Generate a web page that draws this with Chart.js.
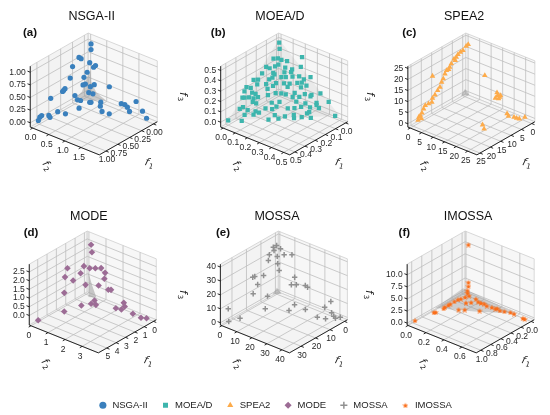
<!DOCTYPE html>
<html>
<head>
<meta charset="utf-8">
<script src="https://cdn.jsdelivr.net/npm/chart.js@4.4.1/dist/chart.umd.min.js"></script>
<style>
  html, body { margin: 0; padding: 0; background: #fff; }
  #wrap { width: 550px; height: 415px; }
</style>
</head>
<body>
<div id="wrap"><canvas id="myChart" width="550" height="415"></canvas></div>
<script>
const FONT = '"Liberation Sans", Arial, sans-serif';

// objective values [f1, f2, f3]
const nsga2Points = [
  [0,0.13,1.0],[0,0.13,0.89],[0.165,0,0.79],[0.12,0,0.74],[0,0.09,0.62],[0,0.21,0.56],[0,0.27,0.61],
  [0.30,0,0.68],[0,0.01,0.41],[0.06,0,0.34],[0.35,0,0.48],[0.46,0,0.33],[0.03,0,0.19],[0.08,0,0.2],
  [0,0.23,0.22],[0,0.70,0.30],[0.49,0,0.31],[0.51,0,0.30],[0.76,0,0.30],[0.25,0,0.08],[0,0.06,0.02],
  [0,0.19,0.03],[0.17,0.38,0],[0.23,0.05,0],[0.22,0.13,0],[0.08,0.55,0],[0.17,0.67,0],[0.19,0.37,0.01],
  [0.40,0.35,0],[0.95,0,0.06],[0.99,0,0.05],[1.02,0,0],[0.82,0.03,0],[0.85,0.11,0],[0.66,0.07,0],
  [0.64,0.28,0],[0.27,0.87,0],[0.26,1.08,0],[0,1.07,0.06],[0,1.18,0.07],[0,1.26,0.04],[0.03,1.37,0],
  [0,1.53,0.22],[0,1.73,0.08],[0.03,1.9,0],[0,0.11,0.15]
];
const moeadPoints = [
  [0.01,0.01,0.48],[0.03,0.03,0.44],[0.09,0.03,0.38],[0.07,0.05,0.38],[0.06,0.07,0.37],[0,0.19,0.42],
  [0.04,0.10,0.36],[0,0.18,0.32],[0.15,0.02,0.33],[0.14,0.04,0.32],[0.11,0.06,0.33],[0.09,0.07,0.34],
  [0.07,0.11,0.32],[0.05,0.15,0.31],[0.19,0.02,0.29],[0.14,0.07,0.29],[0.14,0.08,0.28],[0.09,0.12,0.29],
  [0.06,0.15,0.29],[0.25,0,0.25],[0.23,0.02,0.25],[0.18,0.07,0.25],[0.16,0.08,0.26],[0.12,0.12,0.26],
  [0.10,0.14,0.26],[0.07,0.17,0.26],[0.04,0.20,0.26],[0.03,0.23,0.24],[0,0.26,0.26],[0.25,0.03,0.22],
  [0.21,0.07,0.22],[0.16,0.11,0.22],[0.13,0.15,0.22],[0.11,0.18,0.22],[0.07,0.21,0.22],[0.05,0.23,0.22],
  [0.04,0.26,0.20],[0.32,0,0.22],[0.29,0.01,0.20],[0.22,0.09,0.19],[0.19,0.11,0.21],[0.13,0.18,0.20],
  [0.07,0.24,0.19],[0.34,0,0.19],[0.30,0.03,0.17],[0.29,0.05,0.16],[0.20,0.14,0.16],[0.18,0.17,0.16],
  [0.16,0.19,0.15],[0.12,0.23,0.16],[0.08,0.28,0.15],[0.05,0.31,0.14],[0.01,0.35,0.15],[0.36,0,0.14],
  [0.35,0.01,0.14],[0.33,0.03,0.14],[0.31,0.05,0.13],[0.29,0.07,0.14],[0.24,0.11,0.15],[0.14,0.23,0.13],
  [0.11,0.26,0.13],[0.06,0.31,0.13],[0.33,0.06,0.11],[0.32,0.08,0.10],[0.25,0.15,0.10],[0.21,0.18,0.10],
  [0.14,0.26,0.10],[0.11,0.31,0.09],[0.06,0.36,0.09],[0,0.41,0.09],[0.41,0.02,0.07],[0.39,0.03,0.08],
  [0.38,0.06,0.06],[0.35,0.10,0.05],[0.34,0.12,0.04],[0.30,0.14,0.07],[0.27,0.17,0.06],[0.24,0.18,0.07],
  [0.20,0.24,0.06],[0.17,0.27,0.06],[0.14,0.30,0.07],[0.10,0.34,0.06],[0.06,0.36,0.07],[0.06,0.38,0.05],
  [0.41,0.06,0.03],[0.37,0.10,0.03],[0.28,0.20,0.02],[0.24,0.25,0.01],[0.20,0.29,0.02],[0.13,0.34,0.02],
  [0.12,0.35,0.03],[0.50,0,0],[0.45,0.07,0],[0.33,0.19,0],[0.28,0.23,0],[0.21,0.30,0],[0.17,0.33,0],
  [0.14,0.38,0],[0.02,0.48,0]
];
const spea2Points = [
  [0,1.4,22.7],[0,0.5,21.5],[1.0,0,19.9],[2.2,0,19.8],[3.4,0,19.4],[4.2,0,18.6],[5.3,0,18.4],[4.7,0,17.4],
  [6.6,0,16.9],[7.4,0,15.8],[8.9,0,15.1],[7.9,0,15.0],[9.7,0,14.0],[10.5,0,12.2],[11.3,0,11.1],[12.1,0,9.3],
  [13.2,0,8.4],[14.5,0,7.1],[15.7,0,6.2],[16,0,4.6],[17.6,0,4.7],[19.2,0,4.8],[20,0,3.7],[20.8,0,2.3],
  [21.6,0,1.5],[22.3,0,1.2],[22.7,0,0],[21.3,0.2,0],[15.7,0,16.2],[0,8.6,11.7],[0,13.9,6.1],[0,14.2,5.0],
  [0,15.1,4.6],[0,13.2,3.4],[0,14.6,3.7],[0,15.4,5.5],[1.7,19.8,0],[2.6,21.2,0],[2.0,23.1,0],[2.0,24.2,0],
  [1.8,25.2,0],[0,26,0.1],[12.1,18.5,0],[13.8,20.7,0]
];
const modePoints = [
  [0,0.29,2.41],[0,0.34,2.0],[2.0,0,1.56],[0.24,0,1.14],[0,0.21,1.03],[0,0.54,1.16],[0,0.88,1.30],
  [0,1.11,1.12],[2.26,0,1.13],[0.59,0,0.84],[1.39,0,0.67],[0,1.07,0.76],[0.06,0,0.01],[0,0.73,0.24],
  [0,1.30,0.22],[0,1.46,0.28],[2.34,0,0.25],[1.37,1.24,0],[1.88,1.32,0],[1.78,1.55,0],[2.5,1.09,0],
  [0.33,2.39,0],[0.69,2.64,0],[1.27,2.44,0],[1.17,2.71,0],[3.91,0.86,0],[1.13,3.36,0],[1.21,3.88,0],
  [0.4,3.76,-0.32],[5.13,0,-0.47]
];
const mossaPoints = [
  [2.5,0,33.6],[0.2,0,33.5],[0,2.4,32.1],[2.0,0,31.0],[5.2,0,29.8],[0,0.2,25.6],[0,4.8,28.8],[0,10,31.0],
  [5.9,0,26.1],[0,0.5,20.4],[0,1.5,16.1],[16.7,0,20.5],[15.3,0,20.2],[9.2,0,17.3],[13.3,0,13.2],
  [0,11.8,15.7],[0,9.6,9.3],[0,12.9,10.7],[0,18.9,12.8],[0,20.4,12.2],[16.4,0,8.4],[6.5,0,0.8],
  [4.1,15.7,0],[9.7,17.4,0],[4.4,23.2,0],[15.3,7.0,0],[33.6,0,7.8],[34.7,1.4,0],[29.2,3.6,0],
  [6.4,33.1,0],[0,31.8,2.8],[0,35.9,8.7],[5.2,37.4,0],[0,36.4,0.8],[1.0,38.8,0],[2.0,40.9,0],[0,42.2,0.1]
];
const imossaPoints = [
  [0,0.06,10.3],[0,0.06,2.5],[0,0.06,1.7],[0,0.05,0.75],[0,0.05,0.22],[0.02,0.08,0],[0.08,0.07,0],
  [0.15,0.06,0],[0.19,0.05,0],[0.26,0.05,0],[0.34,0.05,0],[0.38,0.05,0],[0.45,0.05,0],[0.49,0.06,0],
  [0.63,0.05,0],[0.65,0.04,0],[0.97,0.01,0],[0.14,0.17,0],[0.19,0.14,0],[0.39,0.17,0],[0.34,0.21,0],
  [0.24,0.32,0],[0.03,0.16,0],[0.07,0.21,0],[0.07,0.24,0],[0.06,0.27,0],[0.08,0.31,0],[0.07,0.36,0],
  [0.07,0.40,0],[0.05,0.41,0],[0.07,0.45,0],[0.05,0.49,0],[0.02,0.54,0],[0.02,0.58,0],[0.04,0.69,0],
  [0.04,0.71,0]
];

// reference fronts drawn as grey patches
const nsga2Front = [[0,0.12,0.48],[0.03,0,0.25],[0.1,0,0.08],[0.3,0,0],[0.15,0.3,0],[0,0.6,0],[0,0.3,0.08],[0,0.14,0.25]];
const moeadFront = [[0.5,0,0],[0,0.5,0],[0,0,0.5]];
const spea2Front = [[2,0,0],[0,2,0],[0,0,2]];
const modeFront = [[0,0.12,0.8],[0.05,0.2,0.1],[0.3,0.3,-0.5],[0,0.6,-0.5],[0,0.35,0.1]];
const mossaFront = [[3,0,0],[0,3,0],[0,0,3]];
const imossaFront = [[0,0,0.8],[0.55,0,0],[0.3,0.3,0],[0,0.6,0]];

const seriesNames = ['NSGA-II', 'MOEA/D', 'SPEA2', 'MODE', 'MOSSA', 'IMOSSA'];
const panelTags = ['(a)', '(b)', '(c)', '(d)', '(e)', '(f)'];

// axis limits and ticks per panel
const f1Limits = [[-0.08,1.14],[-0.02,0.55],[-1.5,26.5],[-0.3,5.9],[-2,38],[-0.06,1.09]];
const f2Limits = [[-0.075,2.07],[-0.02,0.55],[-1,29],[-0.1,3.95],[-1,45],[-0.01,0.76]];
const f3Limits = [[-0.085,1.12],[-0.047,0.542],[-1.5,26],[-0.55,2.95],[-1.7,42.1],[-0.4,12.2]];
const f1Ticks = [[0,0.25,0.5,0.75,1],[0,0.1,0.2,0.3,0.4,0.5],[0,5,10,15,20,25],[0,1,2,3,4,5],[0,10,20,30],[0,0.2,0.4,0.6,0.8,1]];
const f2Ticks = [[0,0.5,1,1.5],[0,0.1,0.2,0.3,0.4,0.5],[0,5,10,15,20,25],[0,1,2,3],[0,10,20,30,40],[0,0.2,0.4,0.6]];
const f3Ticks = [[0,0.25,0.5,0.75,1],[0,0.1,0.2,0.3,0.4,0.5],[0,5,10,15,20,25],[0,0.5,1,1.5,2,2.5],[0,10,20,30,40],[0,2.5,5,7.5,10]];
const tickDecimals = [[2,1,2],[1,1,1],[0,0,0],[0,0,1],[0,0,0],[1,1,1]];

// layout (page pixels)
const boxOrigin = [[84.4,88.5],[278.7,88.5],[469.7,88.5],[83.4,286.5],[278.4,286.5],[469,286.5]];
const titlePos = [[88,11],[280,11],[468,11],[85,211.5],[277,211.5],[472,211.5]];
const tagPos = [[25,27],[217,27],[412,27],[26,227],[222,227],[407,227]];

const seriesPoints = [nsga2Points, moeadPoints, spea2Points, modePoints, mossaPoints, imossaPoints];
const seriesFronts = [nsga2Front, moeadFront, spea2Front, modeFront, mossaFront, imossaFront];
const frontAlpha = [0.45, 0.13, 0.5, 0.5, 0.5, 0.4];
const seriesColors = ['#3a80bd', '#3db5ad', '#fdab4a', '#9c6c95', '#909090', '#fb6b14'];

// view: elev 28, azim 40, box aspect 4:4:3
const L = 92, EL = 28 * Math.PI / 180, AZ = 40 * Math.PI / 180;
const KU = L * Math.sin(AZ), KV = L * Math.cos(AZ);
const DU = L * Math.sin(EL) * Math.cos(AZ), DV = L * Math.sin(EL) * Math.sin(AZ);
const KW = 0.75 * L * Math.cos(EL);

function normPoint(k, u, v, w) {
  const o = boxOrigin[k];
  return { x: o[0] - KU * u + KV * v, y: o[1] + DU * u + DV * v - KW * w };
}
function frac(lim, val) { return (val - lim[0]) / (lim[1] - lim[0]); }
function dataPoint(k, f1, f2, f3) {
  return normPoint(k, frac(f1Limits[k], f1), frac(f2Limits[k], f2), frac(f3Limits[k], f3));
}

function makeStar(color, size) {
  const c = document.createElement('canvas');
  c.width = size; c.height = size;
  const g = c.getContext('2d');
  const R = size / 2, r = R * 0.45;
  g.fillStyle = color;
  g.beginPath();
  for (let i = 0; i < 10; i++) {
    const a = -Math.PI / 2 + i * Math.PI / 5;
    const rr = i % 2 ? r : R;
    const x = R + rr * Math.cos(a), y = R + 0.5 + rr * Math.sin(a);
    if (i) g.lineTo(x, y); else g.moveTo(x, y);
  }
  g.closePath();
  g.fill();
  return c;
}

const seriesStyles = ['circle', 'rect', 'triangle', 'rectRot', 'cross', makeStar(seriesColors[5], 6)];
const seriesRadius = [2.6, 3, 3.2, 3.3, 2.7, 3];

function fLabel(ctx, x, y, sub, rot) {
  ctx.save();
  ctx.translate(x, y);
  ctx.rotate(rot * Math.PI / 180);
  ctx.fillStyle = '#222';
  ctx.textBaseline = 'middle';
  ctx.textAlign = 'left';
  ctx.font = 'italic 10.5px "DejaVu Sans", sans-serif';
  const wf = ctx.measureText('f').width;
  ctx.font = '7px "DejaVu Sans", sans-serif';
  const ws = ctx.measureText(sub).width;
  const x0 = -(wf + ws + 1) / 2;
  ctx.font = 'italic 10.5px "DejaVu Sans", sans-serif';
  ctx.fillText('f', x0, 0);
  ctx.font = '7px "DejaVu Sans", sans-serif';
  ctx.fillText(sub, x0 + wf + 1, 3);
  ctx.restore();
}

function drawPanel(ctx, P, k) {
  const n = (u, v, w) => P(normPoint(k, u, v, w));
  const poly = (pts) => {
    ctx.beginPath();
    pts.forEach((p, i) => { if (i) ctx.lineTo(p[0], p[1]); else ctx.moveTo(p[0], p[1]); });
    ctx.closePath();
  };
  const line = (a, b) => { ctx.beginPath(); ctx.moveTo(a[0], a[1]); ctx.lineTo(b[0], b[1]); ctx.stroke(); };

  // panes
  const panes = [
    ['#f3f3f3', [[0,0,0],[1,0,0],[1,0,1],[0,0,1]]],
    ['#f7f7f7', [[0,0,0],[0,1,0],[0,1,1],[0,0,1]]],
    ['#f4f4f4', [[0,0,0],[1,0,0],[1,1,0],[0,1,0]]]
  ];
  panes.forEach(([c, pts]) => {
    poly(pts.map(p => n(p[0], p[1], p[2])));
    ctx.fillStyle = c;
    ctx.fill();
    ctx.strokeStyle = '#cfcfcf';
    ctx.lineWidth = 0.8;
    ctx.stroke();
  });

  // grid lines
  ctx.strokeStyle = '#bebebe';
  ctx.lineWidth = 0.8;
  f1Ticks[k].forEach(t => {
    const u = frac(f1Limits[k], t);
    line(n(u,0,0), n(u,1,0));
    line(n(u,0,0), n(u,0,1));
  });
  f2Ticks[k].forEach(t => {
    const v = frac(f2Limits[k], t);
    line(n(0,v,0), n(1,v,0));
    line(n(0,v,0), n(0,v,1));
  });
  f3Ticks[k].forEach(t => {
    const w = frac(f3Limits[k], t);
    line(n(0,0,w), n(1,0,w));
    line(n(0,0,w), n(0,1,w));
  });

  // grey reference front
  poly(seriesFronts[k].map(p => P(dataPoint(k, p[0], p[1], p[2]))));
  ctx.fillStyle = 'rgba(150,150,150,' + frontAlpha[k] + ')';
  ctx.fill();

  // axis lines and ticks
  ctx.strokeStyle = '#111';
  ctx.lineWidth = 0.9;
  line(n(0,1,0), n(1,1,0));
  line(n(1,0,0), n(1,1,0));
  line(n(1,0,0), n(1,0,1));

  const dec = tickDecimals[k];
  ctx.fillStyle = '#262626';
  ctx.font = '8.5px ' + FONT;
  ctx.textAlign = 'center';
  ctx.textBaseline = 'middle';
  f1Ticks[k].forEach(t => {
    const u = frac(f1Limits[k], t);
    line(n(u,1,0), n(u,1.04,0));
    const p = n(u,1,0);
    ctx.fillText(t.toFixed(dec[0]), p[0] + 1, p[1] + 9);
  });
  f2Ticks[k].forEach(t => {
    const v = frac(f2Limits[k], t);
    line(n(1,v,0), n(1.04,v,0));
    const p = n(1,v,0);
    ctx.fillText(t.toFixed(dec[1]), p[0] - 2, p[1] + 10);
  });
  ctx.textAlign = 'right';
  f3Ticks[k].forEach(t => {
    const w = frac(f3Limits[k], t);
    line(n(1,0,w), n(1,-0.04,w));
    const p = n(1,0,w);
    ctx.fillText(t.toFixed(dec[2]), p[0] - 4.5, p[1]);
  });
  ctx.textAlign = 'center';

  // axis labels
  const m1 = n(0.5,1,0), m2 = n(1,0.5,0), m3 = n(1,0,0.5);
  fLabel(ctx, m1[0] + 21, m1[1] + 25, '1', 15);
  fLabel(ctx, m2[0] - 18, m2[1] + 25, '2', 55);
  fLabel(ctx, m3[0] - 38, m3[1], '3', 90);

  // title and tag
  const tp = P({ x: titlePos[k][0], y: titlePos[k][1] });
  ctx.fillStyle = '#111';
  ctx.font = '12.5px ' + FONT;
  ctx.fillText(seriesNames[k], tp[0], tp[1]);
  const gp = P({ x: tagPos[k][0], y: tagPos[k][1] });
  ctx.font = 'bold 11.5px ' + FONT;
  ctx.fillText(panelTags[k], gp[0], gp[1]);
}

const axes3d = {
  id: 'axes3d',
  beforeDatasetsDraw(chart) {
    const ctx = chart.ctx;
    const sx = chart.scales.x, sy = chart.scales.y;
    const P = (pt) => [sx.getPixelForValue(pt.x), sy.getPixelForValue(pt.y)];
    ctx.save();
    for (let k = 0; k < 6; k++) drawPanel(ctx, P, k);
    ctx.restore();
  }
};

const datasets = seriesPoints.map((pts, k) => ({
  label: seriesNames[k],
  data: pts.map(p => dataPoint(k, p[0], p[1], p[2])),
  pointStyle: seriesStyles[k],
  pointRadius: seriesRadius[k],
  backgroundColor: seriesColors[k],
  borderColor: seriesColors[k],
  pointBorderWidth: k === 4 ? 1.5 : 0,
  borderWidth: k === 4 ? 1.5 : 0,
  showLine: false
}));

const chart = new Chart(document.getElementById('myChart'), {
  type: 'scatter',
  data: { datasets: datasets },
  options: {
    responsive: false,
    animation: false,
    events: [],
    layout: { padding: { left: 0, right: 0, top: 0, bottom: -5 } },
    scales: {
      x: { type: 'linear', min: 0, max: 550, display: false },
      y: { type: 'linear', min: 0, max: 415, reverse: true, display: false }
    },
    plugins: {
      legend: {
        position: 'bottom',
        labels: {
          usePointStyle: true,
          boxWidth: 10,
          boxHeight: 5,
          padding: 13,
          color: '#222',
          font: { size: 9.5, family: FONT }
        }
      },
      tooltip: { enabled: false }
    }
  },
  plugins: [axes3d]
});
// make one y unit equal one pixel of the plot area
chart.options.scales.y.max = chart.chartArea.bottom - chart.chartArea.top;
chart.update('none');
</script>
</body>
</html>
